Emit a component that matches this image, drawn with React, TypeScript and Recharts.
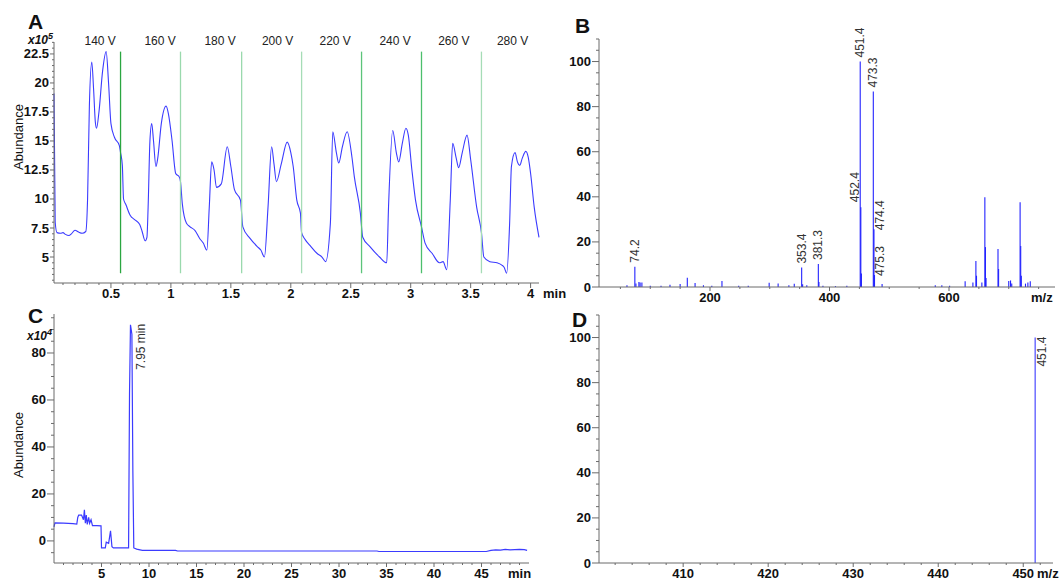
import React from 'react';
import { ComposedChart, Line, XAxis, YAxis, ReferenceLine, Scatter } from 'recharts';

const FONT = '"Liberation Sans", Arial, Helvetica, sans-serif';
const AXIS = '#6b6b6b';
const TICK_TEXT = '#111';
const TRACE = '#3b3bff';
const LABEL_TEXT = '#333';

// ---------- Panel A: abundance vs time (min), x10^5 ----------
const aTimes = [0.025,0.035,0.05,0.08,0.1,0.12,0.15,0.17,0.2,0.23,
  0.26,0.29,0.305,0.32,0.34,0.355,0.37,0.38,0.4,0.43,
  0.46,0.48,0.5,0.53,0.57,0.58,0.595,0.605,0.625,0.66,
  0.7,0.74,0.76,0.785,0.8,0.81,0.825,0.84,0.855,0.875,
  0.89,0.92,0.96,0.98,1.01,1.04,1.07,1.08,1.095,1.13,
  1.16,1.2,1.24,1.27,1.3,1.32,1.34,1.36,1.38,1.42,
  1.47,1.5,1.53,1.58,1.6,1.66,1.72,1.75,1.78,1.81,
  1.84,1.86,1.88,1.92,1.97,2.0,2.02,2.05,2.08,2.09,
  2.12,2.16,2.22,2.26,2.29,2.33,2.35,2.38,2.4,2.43,
  2.47,2.51,2.53,2.58,2.6,2.66,2.74,2.8,2.815,2.85,
  2.88,2.9,2.93,2.96,2.98,3.01,3.04,3.09,3.12,3.18,
  3.24,3.27,3.3,3.33,3.35,3.38,3.4,3.43,3.47,3.5,
  3.55,3.59,3.61,3.66,3.72,3.76,3.78,3.8,3.825,3.84,
  3.87,3.89,3.91,3.93,3.96,3.98,4.0,4.03,4.07];
const aAbundance = [19.1,8.0,7.1,7.05,7.1,6.95,6.85,7.0,7.3,7.15,
  7.05,7.2,10.0,18.0,21.8,19.5,16.6,16.1,17.5,21.0,
  22.7,20.0,16.5,15.3,14.6,14.0,12.9,10.0,9.5,8.6,
  8.2,7.8,7.2,6.4,6.7,9.3,15.0,16.5,15.0,12.8,
  13.5,16.5,18.0,17.3,15.0,12.2,11.9,11.5,9.6,7.9,
  7.6,7.3,6.6,6.2,5.6,9.3,13.2,12.5,11.0,11.3,
  14.5,12.8,10.8,9.9,7.6,6.6,5.9,5.6,5.0,9.3,
  14.5,13.0,11.5,13.0,14.9,14.0,12.8,9.9,8.8,7.1,
  6.5,6.0,5.3,5.0,4.6,7.9,15.8,14.0,13.1,14.5,
  15.8,13.6,11.9,8.8,6.7,5.9,5.0,4.5,9.3,15.9,
  14.0,13.2,14.8,16.1,15.5,12.5,9.9,7.6,6.2,5.3,
  4.5,4.6,3.9,9.9,14.8,13.5,12.7,14.0,15.5,13.4,
  9.3,7.1,5.0,4.6,4.5,4.3,4.1,3.6,7.9,12.8,
  14.0,13.2,12.9,13.5,14.1,13.6,12.2,9.3,6.7];
const aVoltages = ['140 V','160 V','180 V','200 V','220 V','240 V','260 V','280 V'];
const aVoltageTimes = [0.41,0.91,1.41,1.89,2.37,2.87,3.36,3.85];
const aVoltageLabelLevel = 23.3;
const aSwitchTimes = [0.58,1.08,1.59,2.09,2.59,3.09,3.59];
const aSwitchLow = 3.6;
const aSwitchHigh = 22.7;
const aSwitchColors = ['#2aa640','#9ad9ad','#9ad9ad','#a5dcb6','#5cc47a','#4cbf6c','#a5dcb6'];

// ---------- Panel B: mass spectrum ----------
const bMz = [61,74.2,76,81,83,86,100,118,133,150,
  162,175,189,203,220,248,264,299,314,332,
  341,353.4,355,362,381.3,382.3,389,410,429,451.4,
  452.4,453.4,473.3,474.4,475.3,488,577,588,601,627,
  640,645,646,655,660,661,662,682,683,700,
  703,705,719,720,721,728,732,736];
const bIntensity = [0.8,9,1.5,2.2,2.0,2.0,0.6,0.5,1.0,1.3,
  4.1,1.8,0.8,0.6,2.7,0.5,0.5,1.9,1.5,0.8,
  1.4,8.6,1.2,0.8,10.2,2.2,0.5,0.4,0.5,100,
  35.4,6.0,86.7,25.6,5.3,1.3,0.8,0.8,0.6,2.5,
  2.0,11.5,5.0,2.0,39.8,17.7,4.0,16.8,8.0,2.7,
  2.9,1.5,37.6,18.2,5.0,1.5,2.0,2.5];
const bLabelMz = [74.2,353.4,381.3,451.4,452.4,473.3,474.4,475.3];
const bLabelText = ['74.2','353.4','381.3','451.4','452.4','473.3','474.4','475.3'];
const bLabelSide = ['top','top','top','top','left','top','right','right'];

// ---------- Panel C: chromatogram, x10^4 ----------
const cTimes = [0,0.1,1.0,2.0,2.4,2.5,2.6,2.9,3.1,3.2,
  3.3,3.4,3.5,3.65,3.75,3.9,4.05,4.5,4.95,5.0,
  5.4,5.5,5.75,5.95,6.1,6.25,7.0,7.85,7.95,8.05,
  8.2,8.3,8.4,8.7,9.3,12.8,13.0,20,30,34,
  34.2,40,45.5,46.0,46.5,47.0,47.5,48.0,48.5,49.0,
  49.5,49.8];
const cAbundance = [6.0,7.7,7.6,7.4,7.2,10.0,11.0,11.0,9.0,13.2,
  7.5,11.0,7.0,10.0,7.5,9.0,6.5,6.5,6.4,-3.0,
  -3.0,-0.5,-1.0,4.3,-2.5,-3.0,-3.0,-3.0,63,92,
  88,30,-3.0,-3.5,-4.0,-4.0,-4.3,-4.3,-4.3,-4.3,
  -4.5,-4.5,-4.5,-4.0,-3.8,-3.9,-3.6,-3.8,-3.7,-3.6,
  -3.7,-4.0];
const cPeakTime = [8.05];
const cPeakValue = [92];
const cPeakText = ['7.95 min'];

// ---------- Panel D: mass spectrum ----------
const dMz = [451.4];
const dIntensity = [100];
const dLabelText = ['451.4'];

// ---------- helpers ----------
const range = (a: number, b: number, s: number) => {
  const out: number[] = [];
  const n = Math.round((b - a) / s);
  for (let i = 0; i <= n; i++) out.push(Math.round((a + i * s) * 1000) / 1000);
  return out;
};
const isMult = (v: number, m: number) => Math.abs(v / m - Math.round(v / m)) < 1e-6;

const tickTextProps = {
  fontFamily: FONT,
  fontWeight: 'bold' as const,
  fontSize: 13,
  fill: TICK_TEXT,
};

const makeXTick = (major: number, majLen: number, minLen: number) => (p: any) => {
  const v = Number(p.payload.value);
  const maj = isMult(v, major);
  return (
    <g>
      <line x1={p.x} x2={p.x} y1={p.y} y2={p.y + (maj ? majLen : minLen)} stroke={AXIS} strokeWidth={1} />
      {maj && (
        <text x={p.x} y={p.y + 15} textAnchor="middle" {...tickTextProps}>{String(v)}</text>
      )}
    </g>
  );
};

const makeYTick = (major: number, majLen: number, minLen: number, gap: number) => (p: any) => {
  const v = Number(p.payload.value);
  const maj = isMult(v, major);
  return (
    <g>
      <line x1={p.x - (maj ? majLen : minLen)} x2={p.x} y1={p.y} y2={p.y} stroke={AXIS} strokeWidth={1} />
      {maj && (
        <text x={p.x - gap} y={p.y + 4.5} textAnchor="end" {...tickTextProps}>{String(v)}</text>
      )}
    </g>
  );
};

const rotLabel = (x: number, y: number, text: string, anchor: 'start' | 'end') => (
  <text
    x={x}
    y={y}
    transform={`rotate(-90 ${x} ${y})`}
    textAnchor={anchor}
    dominantBaseline="central"
    fontFamily={FONT}
    fontSize={12}
    fill={LABEL_TEXT}
  >
    {text}
  </text>
);

const peakLabelShape = (p: any) => {
  const { cx, cy, payload } = p;
  if (payload.side === 'left') return rotLabel(cx - 6, cy - 5, payload.label, 'start');
  if (payload.side === 'right') return rotLabel(cx + 6, cy + 1, payload.label, 'start');
  if (payload.side === 'rightTop') return rotLabel(cx + payload.dx, cy - 1, payload.label, 'end');
  return rotLabel(cx, cy - 4, payload.label, 'start');
};

const voltShape = (p: any) => (
  <text x={p.cx} y={p.cy} textAnchor="middle" fontFamily={FONT} fontSize={12} fill="#222">
    {p.payload.label}
  </text>
);

// ---------- Panels ----------
function PanelA() {
  const line = aTimes.map((x, i) => ({ x, y: aAbundance[i] }));
  const volt = aVoltages.map((label, i) => ({ x: aVoltageTimes[i], y: aVoltageLabelLevel, label }));
  return (
    <ComposedChart width={560} height={310} margin={{ top: 42, right: 21, bottom: 0, left: 0 }}>
      <XAxis dataKey="x" type="number" domain={[0.025, 4.067]} ticks={range(0.1, 4.0, 0.1)} interval={0}
        tick={makeXTick(0.5, 5, 2)} tickLine={false} tickSize={0} tickMargin={0} height={27}
        axisLine={{ stroke: AXIS }} />
      <YAxis type="number" domain={[2.76, 23.53]} ticks={range(3, 23.5, 0.5)} interval={0}
        tick={makeYTick(2.5, 4, 2, 5)} tickLine={false} tickSize={0} tickMargin={0} width={54}
        axisLine={{ stroke: AXIS }} />
      <Line data={line} dataKey="y" type="monotone" stroke={TRACE} strokeWidth={1.1} dot={false}
        activeDot={false} isAnimationActive={false} />
      {aSwitchTimes.map((t, i) => (
        <ReferenceLine key={i} segment={[{ x: t, y: aSwitchLow }, { x: t, y: aSwitchHigh }]}
          stroke={aSwitchColors[i]} strokeWidth={1.3} />
      ))}
      <Scatter data={volt} dataKey="y" shape={voltShape} isAnimationActive={false} />
    </ComposedChart>
  );
}

function PanelB() {
  const labels = bLabelMz.map((m, i) => ({
    x: m,
    y: bIntensity[bMz.indexOf(m)],
    label: bLabelText[i],
    side: bLabelSide[i],
  }));
  return (
    <ComposedChart width={499} height={312} margin={{ top: 39, right: 4, bottom: 0, left: 0 }}>
      <XAxis dataKey="x" type="number" domain={[14.2, 777.4]} ticks={range(50, 750, 50)} interval={0}
        tick={makeXTick(200, 4, 2)} tickLine={false} tickSize={0} tickMargin={0} height={25}
        axisLine={{ stroke: AXIS }} />
      <YAxis type="number" domain={[0, 110]} ticks={range(0, 110, 5)} interval={0}
        tick={makeYTick(20, 7, 3, 8)} tickLine={false} tickSize={0} tickMargin={0} width={39}
        axisLine={{ stroke: AXIS }} />
      {bMz.map((m, i) => (
        <ReferenceLine key={i} segment={[{ x: m, y: 0 }, { x: m, y: bIntensity[i] }]}
          stroke="#2323ff" strokeWidth={1.1} />
      ))}
      <Scatter data={labels} dataKey="y" shape={peakLabelShape} isAnimationActive={false} />
    </ComposedChart>
  );
}

function PanelC() {
  const line = cTimes.map((x, i) => ({ x, y: cAbundance[i] }));
  const labels = cPeakTime.map((x, i) => ({ x, y: cPeakValue[i], label: cPeakText[i], side: 'rightTop', dx: 11 }));
  return (
    <ComposedChart width={560} height={300} margin={{ top: 34, right: 31, bottom: 0, left: 0 }}>
      <XAxis dataKey="x" type="number" domain={[0, 50]} ticks={range(1, 49, 1)} interval={0}
        tick={makeXTick(5, 4, 2)} tickLine={false} tickSize={0} tickMargin={0} height={17}
        axisLine={{ stroke: AXIS }} />
      <YAxis type="number" domain={[-9.4, 96.6]} ticks={range(-5, 95, 5)} interval={0}
        tick={makeYTick(20, 7, 3, 8)} tickLine={false} tickSize={0} tickMargin={0} width={54}
        axisLine={{ stroke: AXIS }} />
      <Line data={line} dataKey="y" type="linear" stroke={TRACE} strokeWidth={1.2} dot={false}
        activeDot={false} isAnimationActive={false} />
      <Scatter data={labels} dataKey="y" shape={peakLabelShape} isAnimationActive={false} />
    </ComposedChart>
  );
}

function PanelD() {
  const labels = dMz.map((x, i) => ({ x, y: dIntensity[i], label: dLabelText[i], side: 'rightTop', dx: 7 }));
  return (
    <ComposedChart width={499} height={280} margin={{ top: 15, right: 6, bottom: 0, left: 0 }}>
      <XAxis dataKey="x" type="number" domain={[400.1, 453.5]} ticks={range(402, 452, 2)} interval={0}
        tick={makeXTick(10, 4, 2)} tickLine={false} tickSize={0} tickMargin={0} height={17}
        axisLine={{ stroke: AXIS }} />
      <YAxis type="number" domain={[0, 110]} ticks={range(0, 110, 5)} interval={0}
        tick={makeYTick(20, 7, 3, 8)} tickLine={false} tickSize={0} tickMargin={0} width={39}
        axisLine={{ stroke: AXIS }} />
      {dMz.map((m, i) => (
        <ReferenceLine key={i} segment={[{ x: m, y: 0 }, { x: m, y: dIntensity[i] }]}
          stroke="#3a3aff" strokeWidth={1.1} />
      ))}
      <Scatter data={labels} dataKey="y" shape={peakLabelShape} isAnimationActive={false} />
    </ComposedChart>
  );
}

const bold13 = { fontFamily: FONT, fontWeight: 'bold' as const, fontSize: 13, fill: TICK_TEXT };
const letter = { fontFamily: FONT, fontWeight: 'bold' as const, fontSize: 21, fill: '#111' };

export default function App() {
  return (
    <div style={{ position: 'absolute', left: 0, top: 0, width: 1059, height: 580, overflow: 'hidden', background: '#fff' }}>
      <div style={{ position: 'absolute', left: 0, top: 0 }}><PanelA /></div>
      <div style={{ position: 'absolute', left: 560, top: 0 }}><PanelB /></div>
      <div style={{ position: 'absolute', left: 0, top: 280 }}><PanelC /></div>
      <div style={{ position: 'absolute', left: 560, top: 300 }}><PanelD /></div>
      <svg width={1059} height={580} style={{ position: 'absolute', left: 0, top: 0, pointerEvents: 'none' }}>
        <text x={28} y={29} {...letter}>A</text>
        <text x={575} y={33} {...letter}>B</text>
        <text x={28} y={323} {...letter}>C</text>
        <text x={572} y={327} {...letter}>D</text>
        <text x={28} y={44} fontFamily={FONT} fontWeight="bold" fontStyle="italic" fontSize={12} fill="#111">
          x10<tspan dy={-5} fontSize={9}>5</tspan>
        </text>
        <text x={27} y={340} fontFamily={FONT} fontWeight="bold" fontStyle="italic" fontSize={12} fill="#111">
          x10<tspan dy={-5} fontSize={9}>4</tspan>
        </text>
        <text x={18} y={137} transform="rotate(-90 18 137)" textAnchor="middle" dominantBaseline="central"
          fontFamily={FONT} fontSize={13} fill="#111">Abundance</text>
        <text x={18} y={445} transform="rotate(-90 18 445)" textAnchor="middle" dominantBaseline="central"
          fontFamily={FONT} fontSize={13} fill="#111">Abundance</text>
        <text x={543} y={298} {...bold13}>min</text>
        <text x={1031} y={302} {...bold13}>m/z</text>
        <text x={508} y={578} {...bold13}>min</text>
        <text x={1037} y={578} {...bold13}>m/z</text>
      </svg>
    </div>
  );
}
